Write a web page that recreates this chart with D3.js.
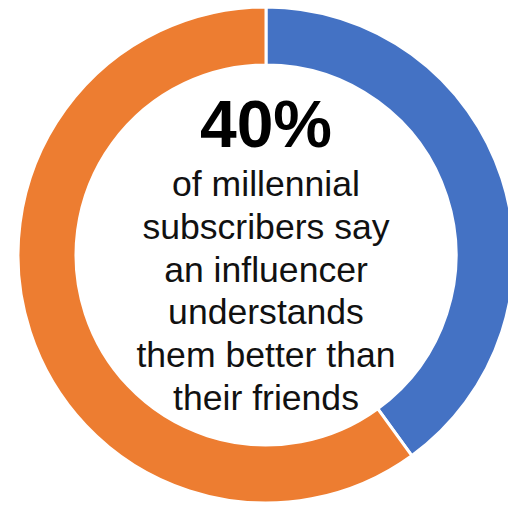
<!DOCTYPE html>
<html>
<head>
<meta charset="utf-8">
<script src="https://cdn.jsdelivr.net/npm/d3@7"></script>
<style>
  body { margin: 0; background: #fff; }
  svg { display: block; }
</style>
</head>
<body>
<div class="chart"></div>
<script>

// Data
var labels = ["Agree", "Other"],
    shares = [40, 60],
    colors = ["#4472C4", "#ED7D31"];

var headline = "40%",
    caption = ["of millennial", "subscribers say", "an influencer", "understands", "them better than", "their friends"];

// Size
var width = 508,
    height = 505,
    cx = 266,
    cy = 255,
    outerR = 248,
    innerR = 190;

var svg = d3.select(".chart")
	.append("svg")
	.attr("width", width)
	.attr("height", height)

var g = svg.append("g")
	.attr("transform", "translate(" + cx + "," + cy + ")")

var pie = d3.pie()
	.sort(null)
	.value(function(d) { return d; })

var arc = d3.arc()
	.innerRadius(innerR)
	.outerRadius(outerR)

g.selectAll(".slice")
	.data(pie(shares))
	.enter().append("path")
	.attr("class", "slice")
	.attr("d", arc)
	.attr("fill", function(d, i) { return colors[i]; })
	.attr("stroke", "#fff")
	.attr("stroke-width", 3)
	.attr("stroke-linejoin", "miter")

// Centre text
g.append("text")
	.attr("x", 0)
	.attr("y", 147 - cy)
	.attr("text-anchor", "middle")
	.style("font-family", "Liberation Sans, Arial, sans-serif")
	.style("font-weight", "bold")
	.style("font-size", "66px")
	.attr("fill", "#000")
	.text(headline)

g.selectAll(".caption")
	.data(caption)
	.enter().append("text")
	.attr("class", "caption")
	.attr("x", 0)
	.attr("y", function(d, i) { return 196 - cy + i * 42.8; })
	.attr("text-anchor", "middle")
	.style("font-family", "Liberation Sans, Arial, sans-serif")
	.style("font-size", "35.6px")
	.attr("fill", "#111")
	.text(function(d) { return d; })

</script>
</body>
</html>
